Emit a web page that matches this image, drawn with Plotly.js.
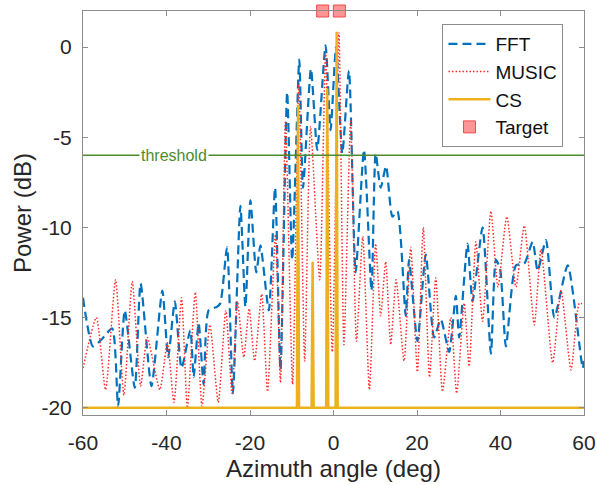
<!DOCTYPE html>
<html>
<head>
<meta charset="utf-8">
<script src="https://cdn.plot.ly/plotly-3.0.1.min.js"></script>
<style>html,body{margin:0;padding:0;background:#fff;}#chart{width:597px;height:485px;}</style>
</head>
<body>
<div id="chart"></div>
<script>
// ---- data ----
const fftAngle = [-60,-57.6,-55.5,-53,-51.6,-50,-47.6,-46.2,-43.6,-41,-39.6,-38,-36.4,-34.3,-33.5,-32.3,-31.1,-29.9,-27.9,-27.1,-25.5,-24.1,-22.3,-21.1,-19.9,-18.5,-17.5,-15.5,-14,-12.7,-11.1,-9.9,-8.2,-7.3,-5.4,-3.9,-1.9,-0.7,0.6,2.1,3.7,5.3,7.3,9.1,10.1,11.3,12.6,14.1,15.3,17.3,18.1,20.1,22.1,24.1,25.7,27.7,29.3,30.1,32.1,33.3,35.7,37.7,38.9,39.9,41.3,43.7,45.7,47.7,48.9,50.9,52.9,56.1,59.7,60];
const fftPower = [-13.9,-16.6,-16.2,-15.6,-19.9,-14.6,-18.9,-13.1,-18.8,-13.5,-17.2,-14.1,-17.8,-15.7,-18.3,-15.3,-18.7,-14.6,-14.4,-14.2,-11.1,-19.2,-8.8,-14.4,-8.5,-12.5,-11.0,-14.6,-7.8,-17.9,-2.5,-11.8,-0.7,-7.8,-1.2,-5.7,0.1,-4.6,0.0,-5.9,-1.3,-12.5,-5.7,-13.5,-5.9,-7.8,-6.6,-9.4,-9.1,-14.9,-11.8,-16.3,-11.5,-16.1,-15.1,-16.9,-13.8,-16.1,-10.9,-14.1,-10.0,-17.0,-11.8,-12.3,-16.6,-12.1,-12.0,-10.8,-12.4,-10.7,-15.0,-12.1,-17.8,-17.4];

const musicAngle = [-60,-56.8,-54.6,-52.2,-50.2,-48.2,-46.2,-44.6,-41.6,-39.8,-38.2,-36.4,-35,-33.1,-31.5,-29.6,-27.6,-25.8,-24.3,-23,-21.5,-20.2,-18.9,-17.2,-15.8,-13.9,-12.7,-11.5,-9.8,-8.3,-6.9,-5.5,-3.3,-1.9,-0.3,1.3,2.5,4.1,5.5,7,8.6,10.1,11.3,12.5,13.7,15,16.9,18.5,20.1,21.5,23,24.5,26.1,28.1,29.5,31.3,32.5,34.1,35.7,37.7,39.4,41.5,43.7,45.7,48.1,49.7,52.5,54.5,56.9,58.9,60];
const musicPower = [-17.8,-15.0,-19.0,-12.9,-19.3,-13.0,-18.8,-16.1,-19.0,-16.4,-19.7,-13.9,-20.0,-13.6,-19.9,-15.4,-19.7,-14.6,-19.2,-14.1,-17.2,-14.5,-17.4,-13.7,-19.1,-10.4,-18.6,-4.1,-18.7,-2.0,-17.4,-4.4,-12.9,-0.3,-16.9,0.8,-16.5,-4.1,-16.3,-10.5,-19.0,-10.9,-14.9,-11.9,-16.5,-12.9,-17.4,-11.1,-18.0,-10.0,-18.3,-12.8,-19.1,-15.0,-19.2,-14.2,-17.7,-10.8,-15.2,-9.1,-13.3,-9.4,-13.3,-9.9,-15.4,-11.2,-17.5,-13.5,-17.9,-14.2,-14.3];

const csAngle = [-60,-8.75,-8.5,-8.25,-5.25,-5.0,-4.75,-1.75,-1.5,-1.25,0.5,0.75,1.0,60];
const csPower = [-20,-20,-3.2,-20,-20,-11.9,-20,-20,-2.3,-20,-20,0.85,-20,-20];

const targetAngle = [-2.6, 1.4];
const targetPower = [2, 2];

const threshold = -6;

const xTickVals = [-60,-40,-20,0,20,40,60];
const xTickText = ['-60','-40','-20','0','20','40','60'];
const yTickVals = [-20,-15,-10,-5,0];
const yTickText = ['-20','-15','-10','-5','0'];

// ---- chart ----
const FONT = 'Liberation Sans, Arial, sans-serif';
const traces = [
  {x: fftAngle, y: fftPower, name: 'FFT', type: 'scatter', mode: 'lines',
   line: {color: '#0072BD', width: 2.2, dash: '9px,5px', shape: 'spline', smoothing: 0.6}},
  {x: musicAngle, y: musicPower, name: 'MUSIC', type: 'scatter', mode: 'lines',
   line: {color: 'rgb(255,40,40)', width: 1.5, dash: '1.5px,2px', shape: 'spline', smoothing: 0.6}},
  {x: csAngle, y: csPower, name: 'CS', type: 'scatter', mode: 'lines',
   line: {color: '#EDB120', width: 2.5}},
  {x: targetAngle, y: targetPower, name: 'Target', type: 'scatter', mode: 'markers', cliponaxis: false,
   marker: {symbol: 'square', size: 12, color: '#FF9696', line: {color: '#F04A4A', width: 1}}}
];

const axisCommon = {
  showline: true, linecolor: '#8c8c8c', linewidth: 1, mirror: 'ticks',
  ticks: 'inside', ticklen: 5, tickcolor: '#8c8c8c', showgrid: false, zeroline: false,
  tickfont: {family: FONT, size: 21, color: '#262626'}
};

const layout = {
  width: 597, height: 485,
  margin: {l: 83, r: 13, t: 11, b: 70},
  paper_bgcolor: '#fff', plot_bgcolor: '#fff',
  showlegend: true,
  xaxis: Object.assign({}, axisCommon, {
    range: [-60, 60], tickvals: xTickVals, ticktext: xTickText, ticklabelstandoff: 9,
    title: {text: 'Azimuth angle (deg)', font: {family: FONT, size: 24, color: '#262626'}, standoff: 6}
  }),
  yaxis: Object.assign({}, axisCommon, {
    range: [-20.4, 2], tickvals: yTickVals, ticktext: yTickText, ticklabelstandoff: 6,
    title: {text: 'Power (dB)', font: {family: FONT, size: 24, color: '#262626'}, standoff: 3}
  }),
  legend: {
    x: 0.7175, y: 0.968, xanchor: 'left', yanchor: 'top',
    bgcolor: '#fff', bordercolor: '#8c8c8c', borderwidth: 1,
    font: {family: FONT, size: 19, color: '#111'}, itemwidth: 42, tracegroupgap: 0
  },
  shapes: [{type: 'line', xref: 'paper', x0: 0, x1: 1, yref: 'y', y0: threshold, y1: threshold,
            line: {color: '#4D8B2E', width: 1.5}, layer: 'above'}],
  annotations: [{x: -38.2, y: threshold, xref: 'x', yref: 'y', text: 'threshold', showarrow: false,
                 font: {family: FONT, size: 16, color: '#4D8B2E'}, bgcolor: '#fff', borderpad: 1}]
};

Plotly.newPlot('chart', traces, layout, {staticPlot: true, displayModeBar: false});
</script>
</body>
</html>
